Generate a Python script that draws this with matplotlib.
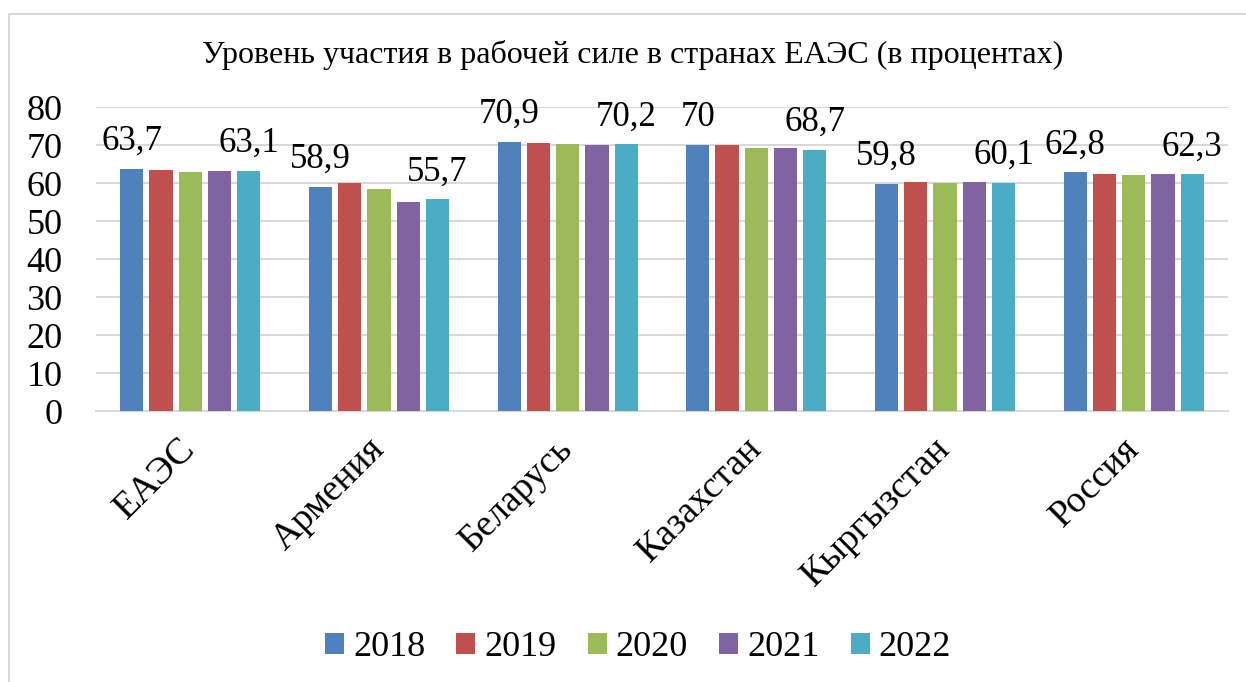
import matplotlib
matplotlib.use("Agg")
import matplotlib.pyplot as plt
import numpy as np
from matplotlib.patches import Rectangle

plt.rcParams['font.family'] = ['Liberation Serif', 'DejaVu Serif']

countries = ['ЕАЭС', 'Армения', 'Беларусь', 'Казахстан', 'Кыргызстан', 'Россия']
years = ['2018', '2019', '2020', '2021', '2022']
v2018 = [63.7, 58.9, 70.9, 70.0, 59.8, 62.8]
v2019 = [63.3, 60.0, 70.6, 70.1, 60.3, 62.3]
v2020 = [63.0, 58.5, 70.2, 69.1, 60.1, 62.0]
v2021 = [63.2, 54.9, 70.0, 69.2, 60.3, 62.4]
v2022 = [63.1, 55.7, 70.2, 68.7, 60.1, 62.3]
colors = ['#4f81bd', '#c0504d', '#9bbb59', '#8064a2', '#4bacc6']
title = 'Уровень участия в рабочей силе в странах ЕАЭС (в процентах)'

series = [v2018, v2019, v2020, v2021, v2022]

fig = plt.figure(figsize=(12.46, 6.82), dpi=100)
ax = fig.add_axes([96/1246, 1 - 411/682, (1228-96)/1246, (411-107)/682])

x = np.arange(len(countries))
pitch = 0.155
w = 0.123
for i, vals in enumerate(series):
    pos = x + (i - 2) * pitch
    bars = ax.bar(pos, vals, w, color=colors[i], label=years[i], zorder=3)
    # подписи только у первого и последнего года
    if i in (0, 4):
        for b, v in zip(bars, vals):
            lab = ('%.1f' % v).replace('.', ',')
            if lab.endswith(',0'):
                lab = lab[:-2]
            ax.text(b.get_x() + b.get_width()/2, v + 5.0, lab, ha='center', va='baseline',
                    fontsize=25, zorder=4)

ax.set_xlim(-0.5, len(countries) - 0.5)
ax.set_ylim(0, 80)
ax.set_yticks(range(0, 81, 10))
ax.yaxis.grid(True, color='#d9d9d9', lw=1.5, zorder=0)
ax.tick_params(axis='y', labelsize=26, length=0, pad=24)
ax.tick_params(axis='x', length=0, pad=23.5)
ax.set_xticks(x)
ax.set_xticklabels(countries, rotation=45, ha='right', va='center', rotation_mode='anchor', fontsize=27)
for s in ['top', 'right', 'left']:
    ax.spines[s].set_visible(False)
ax.spines['bottom'].set_color('#d9d9d9')
ax.spines['bottom'].set_linewidth(1.5)

fig.text(633/1246, 1 - 55/682, title, ha='center', va='center', fontsize=23)

ax.legend(loc='center', bbox_to_anchor=(638/1246, 1 - 648/682), bbox_transform=fig.transFigure,
          ncol=5, frameon=False, fontsize=26, handlelength=0.53, handleheight=0.53,
          handletextpad=0.25, columnspacing=0.86)

fig.patches.append(Rectangle((9/1246, -0.05), 1.0, 1 - 13.5/682 + 0.05, transform=fig.transFigure,
                             fill=False, edgecolor='#d9d9d9', lw=1.5))

fig.savefig('out.png', dpi=100)
